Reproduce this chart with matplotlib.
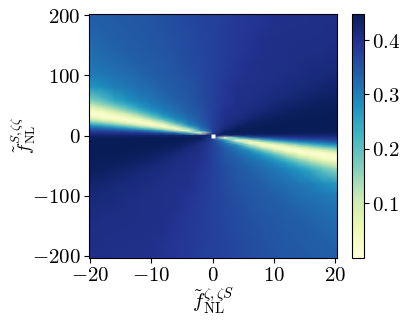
import numpy as np
import matplotlib
matplotlib.use("Agg")
import matplotlib.pyplot as plt

plt.rcParams["mathtext.fontset"] = "cm"
plt.rcParams["font.family"] = "serif"

x_nodes = [-20.25, -18, -16, -14, -12, -10, -8, -6, -4, -2, 0, 2, 4, 6, 8, 10, 12, 14, 16, 18, 20.25]
y_upper = [202.5, 180, 160, 140, 120, 100, 80, 60, 56, 52, 48, 44, 40, 36, 32, 28, 24, 20, 16, 12, 8, 4, 0]

upper_rows = [
 [.335,.338,.341,.344,.347,.35,.356,.361,.365,.372,.375,.378,.385,.39,.395,.40,.40,.402,.403,.404,.405],
 [.331,.335,.338,.342,.345,.348,.353,.36,.364,.371,.375,.379,.386,.39,.396,.40,.402,.403,.404,.405,.406],
 [.326,.33,.335,.339,.343,.346,.35,.357,.363,.37,.375,.38,.387,.392,.40,.402,.404,.405,.405,.406,.408],
 [.32,.325,.33,.335,.339,.344,.348,.354,.362,.368,.375,.381,.388,.395,.40,.404,.405,.406,.407,.408,.41],
 [.312,.318,.323,.329,.335,.34,.345,.35,.36,.366,.375,.382,.39,.40,.403,.405,.405,.408,.41,.412,.415],
 [.30,.309,.314,.32,.327,.335,.341,.347,.356,.365,.375,.385,.395,.40,.403,.405,.408,.41,.414,.417,.42],
 [.27,.284,.30,.31,.318,.326,.335,.343,.35,.363,.375,.388,.40,.403,.405,.408,.412,.416,.42,.425,.43],
 [.17,.21,.255,.28,.30,.312,.323,.335,.345,.36,.375,.39,.402,.405,.41,.415,.42,.427,.432,.437,.44],
 [.15,.185,.235,.27,.292,.309,.32,.333,.344,.358,.375,.39,.403,.406,.41,.417,.423,.43,.435,.44,.441],
 [.115,.16,.205,.25,.28,.303,.316,.33,.342,.357,.375,.392,.403,.407,.412,.42,.427,.433,.437,.441,.443],
 [.085,.13,.17,.22,.27,.295,.312,.326,.34,.355,.375,.395,.404,.408,.415,.422,.43,.435,.44,.442,.444],
 [.05,.09,.14,.19,.245,.285,.308,.322,.338,.352,.375,.397,.404,.41,.417,.426,.433,.439,.442,.444,.446],
 [.02,.05,.10,.155,.215,.27,.30,.317,.335,.35,.375,.40,.405,.41,.42,.43,.437,.441,.444,.446,.447],
 [.01,.02,.06,.11,.17,.24,.287,.312,.331,.348,.375,.40,.406,.415,.425,.434,.44,.443,.446,.447,.448],
 [.035,.012,.02,.065,.13,.20,.27,.305,.326,.346,.375,.402,.408,.418,.43,.438,.442,.445,.447,.448,.449],
 [.085,.045,.015,.02,.07,.15,.235,.292,.32,.344,.375,.403,.41,.423,.435,.441,.445,.447,.448,.449,.45],
 [.145,.105,.06,.02,.02,.085,.17,.27,.312,.34,.375,.404,.415,.43,.44,.444,.447,.449,.45,.45,.45],
 [.21,.17,.13,.08,.025,.02,.10,.21,.30,.335,.375,.405,.42,.437,.443,.447,.449,.45,.45,.45,.45],
 [.28,.253,.21,.16,.105,.035,.02,.13,.27,.326,.375,.408,.43,.442,.447,.45,.45,.45,.45,.45,.45],
 [.33,.315,.293,.262,.21,.145,.06,.02,.17,.312,.375,.415,.44,.447,.45,.45,.45,.45,.45,.45,.45],
 [.37,.36,.35,.336,.315,.28,.21,.105,.02,.27,.375,.43,.447,.45,.45,.45,.45,.45,.45,.45,.45],
 [.40,.398,.395,.391,.385,.37,.35,.315,.21,.02,.375,.447,.45,.45,.45,.45,.447,.445,.443,.441,.44],
 [.425,.425,.425,.425,.425,.425,.425,.425,.425,.425,.425,.425,.425,.425,.425,.425,.425,.425,.425,.425,.425],
]
x_ticks = [-20, -10, 0, 10, 20]
y_ticks = [-200, -100, 0, 100, 200]
cbar_ticks = [0.1, 0.2, 0.3, 0.4]
vmin, vmax = 0.0, 0.449
missing_x, missing_y = [0], [0]

upper = np.array(upper_rows)
z = np.vstack([upper, upper[-2::-1, ::-1]])
y_nodes = np.array(y_upper + [-v for v in y_upper[-2::-1]])
X, Y = np.meshgrid(x_nodes, y_nodes)

W, H = 405, 321
fig = plt.figure(figsize=(W / 100, H / 100), dpi=100)
ax = fig.add_axes([88.5 / W, 1 - 257.5 / H, 248 / W, 244 / H])
mesh = ax.pcolormesh(X, Y, z, cmap="YlGnBu", vmin=vmin, vmax=vmax, shading="gouraud", rasterized=True)
ax.plot(missing_x, missing_y, ls="none", marker="s", ms=2.4, mfc="white", mec="none")
ax.set_xlim(-20.25, 20.25)
ax.set_ylim(-202.5, 202.5)
ax.set_xticks(x_ticks, [f"${v}$" for v in x_ticks])
ax.set_yticks(y_ticks, [f"${v}$" for v in y_ticks])
ax.tick_params(labelsize=15, length=3.5, width=0.8, pad=2.5)
ax.set_xlabel(r"$\tilde{f}_{\rm NL}^{\zeta,\zeta S}$", fontsize=15, labelpad=0)
ax.set_ylabel(r"$\tilde{f}_{\rm NL}^{S,\zeta\zeta}$", fontsize=13.5, labelpad=-5)

cax = fig.add_axes([352 / W, 1 - 257.5 / H, 12 / W, 244 / H])
cb = fig.colorbar(mesh, cax=cax)
cb.set_ticks(cbar_ticks, labels=[f"${v:.1f}$" for v in cbar_ticks])
cax.tick_params(labelsize=15, length=3.5, width=0.8, pad=2.5)

fig.savefig("out.png", dpi=100)
